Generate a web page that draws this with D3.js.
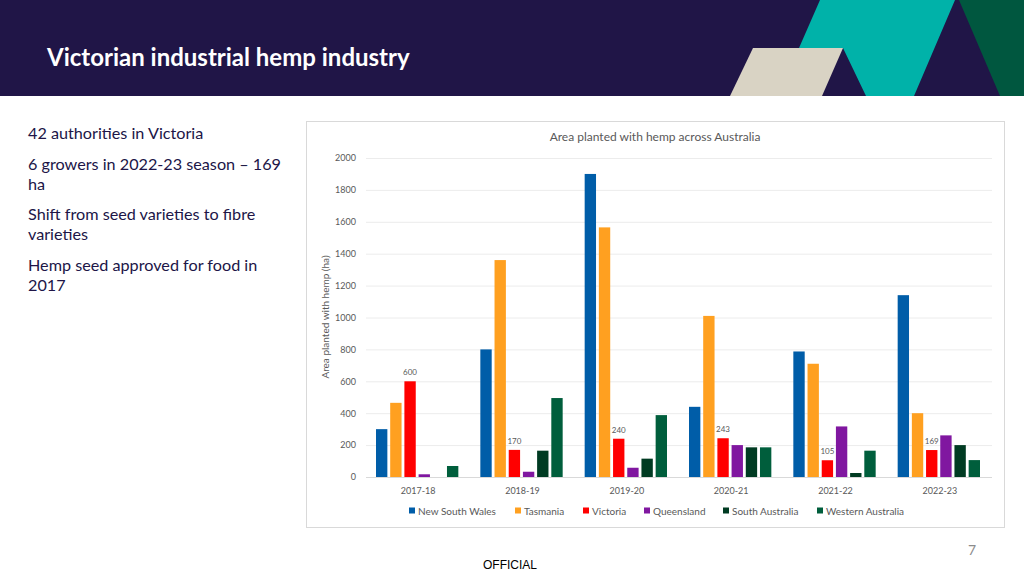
<!DOCTYPE html>
<html><head><meta charset="utf-8">
<script src="https://cdn.jsdelivr.net/npm/d3@7"></script>
<style>html,body{margin:0;padding:0;background:#fff;}svg{display:block;}</style>
</head><body>
<svg id="c" width="1024" height="576"></svg>
<script>
const categories = ["2017-18","2018-19","2019-20","2020-21","2021-22","2022-23"];
const seriesNames = ["New South Wales","Tasmania","Victoria","Queensland","South Australia","Western Australia"];
const nsw = [300, 800, 1900, 440, 787, 1140];
const tas = [465, 1360, 1565, 1010, 710, 400];
const vic = [600, 170, 240, 243, 105, 169];
const qld = [17, 33, 58, 200, 317, 261];
const sa  = [0, 165, 115, 186, 25, 200];
const wa  = [69, 495, 388, 186, 165, 106];
const seriesColors = ["#005DA8","#FFA020","#FF0000","#8017A0","#003B22","#005E3C"];
const yTicks = [0,200,400,600,800,1000,1200,1400,1600,1800,2000];
const bullets = [["42 authorities in Victoria"],["6 growers in 2022-23 season – 169","ha"],["Shift from seed varieties to fibre","varieties"],["Hemp seed approved for food in","2017"]];

const allSeries = [nsw, tas, vic, qld, sa, wa];
const svg = d3.select("#c");
const navy = "#201547";

// header
svg.append("rect").attr("x",0).attr("y",0).attr("width",1024).attr("height",96).attr("fill",navy);
const poly = (pts, fill) => svg.append("polygon").attr("points", pts.map(p=>p.join(",")).join(" ")).attr("fill", fill);
poly([[820,0],[955,0],[914,96],[866,96],[843,48],[799,48]], "#00B2A9");
poly([[959,0],[1024,0],[1024,96],[1000,96]], "#00573F");
poly([[753,48],[843,48],[822,96],[730,96]], "#D9D3C4");
svg.append("text").attr("x",47).attr("y",66).attr("fill","#fff")
  .style("font-family","Lato, 'Open Sans', sans-serif").style("font-weight","bold").style("font-size","24px")
  .text("Victorian industrial hemp industry");

// left bullets
let by = 139;
const bt = svg.append("g").style("font-family","Lato, 'Open Sans', sans-serif").style("font-size","16.2px").attr("fill", navy);
bullets.forEach(b => {
  b.forEach((line,i) => { bt.append("text").attr("x",28).attr("y",by + i*20).text(line); });
  by += (b.length-1)*20 + 30.5;
});

// chart panel
svg.append("rect").attr("x",306.5).attr("y",121.5).attr("width",698).attr("height",406)
  .attr("fill","#fff").attr("stroke","#d9d9d9").attr("stroke-width",1);

const plot = {left:366, right:992, top:158, bottom:477};
const y = d3.scaleLinear().domain([0,2000]).range([plot.bottom, plot.top]);
const x0 = d3.scaleBand().domain(categories).range([plot.left, plot.right]).paddingInner(0).paddingOuter(0);
const x1 = d3.scaleBand().domain(d3.range(6)).range([10, x0.bandwidth()-12]).paddingInner(0.2).paddingOuter(0);

const font = "Lato, 'Open Sans', sans-serif";
// gridlines
const yAxis = d3.axisLeft(y).tickValues(yTicks).tickFormat(d3.format("d")).tickSize(-(plot.right-plot.left)).tickPadding(10);
const ga = svg.append("g").attr("transform",`translate(${plot.left},0)`).call(yAxis);
ga.select(".domain").remove();
ga.selectAll(".tick line").attr("stroke","#ececec").attr("stroke-width",1);
ga.selectAll(".tick text").attr("fill","#595959").style("font-family",font).style("font-size","9px");
ga.selectAll(".tick").filter(d=>d===0).select("line").attr("stroke","#d9d9d9");

// bars
const groups = svg.append("g").selectAll("g").data(categories).join("g")
  .attr("transform", d => `translate(${x0(d)},0)`);
groups.selectAll("rect").data((d,ci) => allSeries.map((s,si)=>({si, v:s[ci]}))).join("rect")
  .attr("x", d => x1(d.si)).attr("width", x1.bandwidth())
  .attr("y", d => y(d.v)).attr("height", d => plot.bottom - y(d.v))
  .attr("fill", d => seriesColors[d.si]);
// data labels for Victoria
groups.append("text").attr("x", x1(2)+x1.bandwidth()/2).attr("y",(d,ci)=>y(vic[ci])-6)
  .attr("text-anchor","middle").attr("fill","#595959").style("font-family",font).style("font-size","8px")
  .text((d,ci)=>vic[ci]);

// x axis
const xa = d3.axisBottom(x0).tickSize(0).tickPadding(11);
const gx = svg.append("g").attr("transform",`translate(0,${plot.bottom})`).call(xa);
gx.select(".domain").remove();
gx.selectAll("text").attr("fill","#595959").style("font-family",font).style("font-size","9px");

// titles
svg.append("text").attr("x",655).attr("y",141).attr("text-anchor","middle").attr("fill","#595959")
  .style("font-family",font).style("font-size","12px").text("Area planted with hemp across Australia");
svg.append("text").attr("transform","translate(329,317) rotate(-90)").attr("text-anchor","middle").attr("fill","#595959")
  .style("font-family",font).style("font-size","10px").text("Area planted with hemp (ha)");

// legend
const legX = [409, 515, 583, 644, 723, 817];
const lg = svg.append("g").selectAll("g").data(seriesNames).join("g").attr("transform",(d,i)=>`translate(${legX[i]},511)`);
lg.append("rect").attr("x",0).attr("y",-3.5).attr("width",6).attr("height",6).attr("fill",(d,i)=>seriesColors[i]);
lg.append("text").attr("x",9).attr("y",3.5).attr("fill","#595959").style("font-family",font).style("font-size","10px").text(d=>d);

// footer
svg.append("text").attr("x",483).attr("y",569).attr("fill","#000").style("font-family","'Liberation Sans', Arial, sans-serif").style("font-size","12px").text("OFFICIAL");
svg.append("text").attr("x",968).attr("y",555).attr("fill","#8c8c8c").style("font-family",font).style("font-size","14px").text("7");
</script>
</body></html>
